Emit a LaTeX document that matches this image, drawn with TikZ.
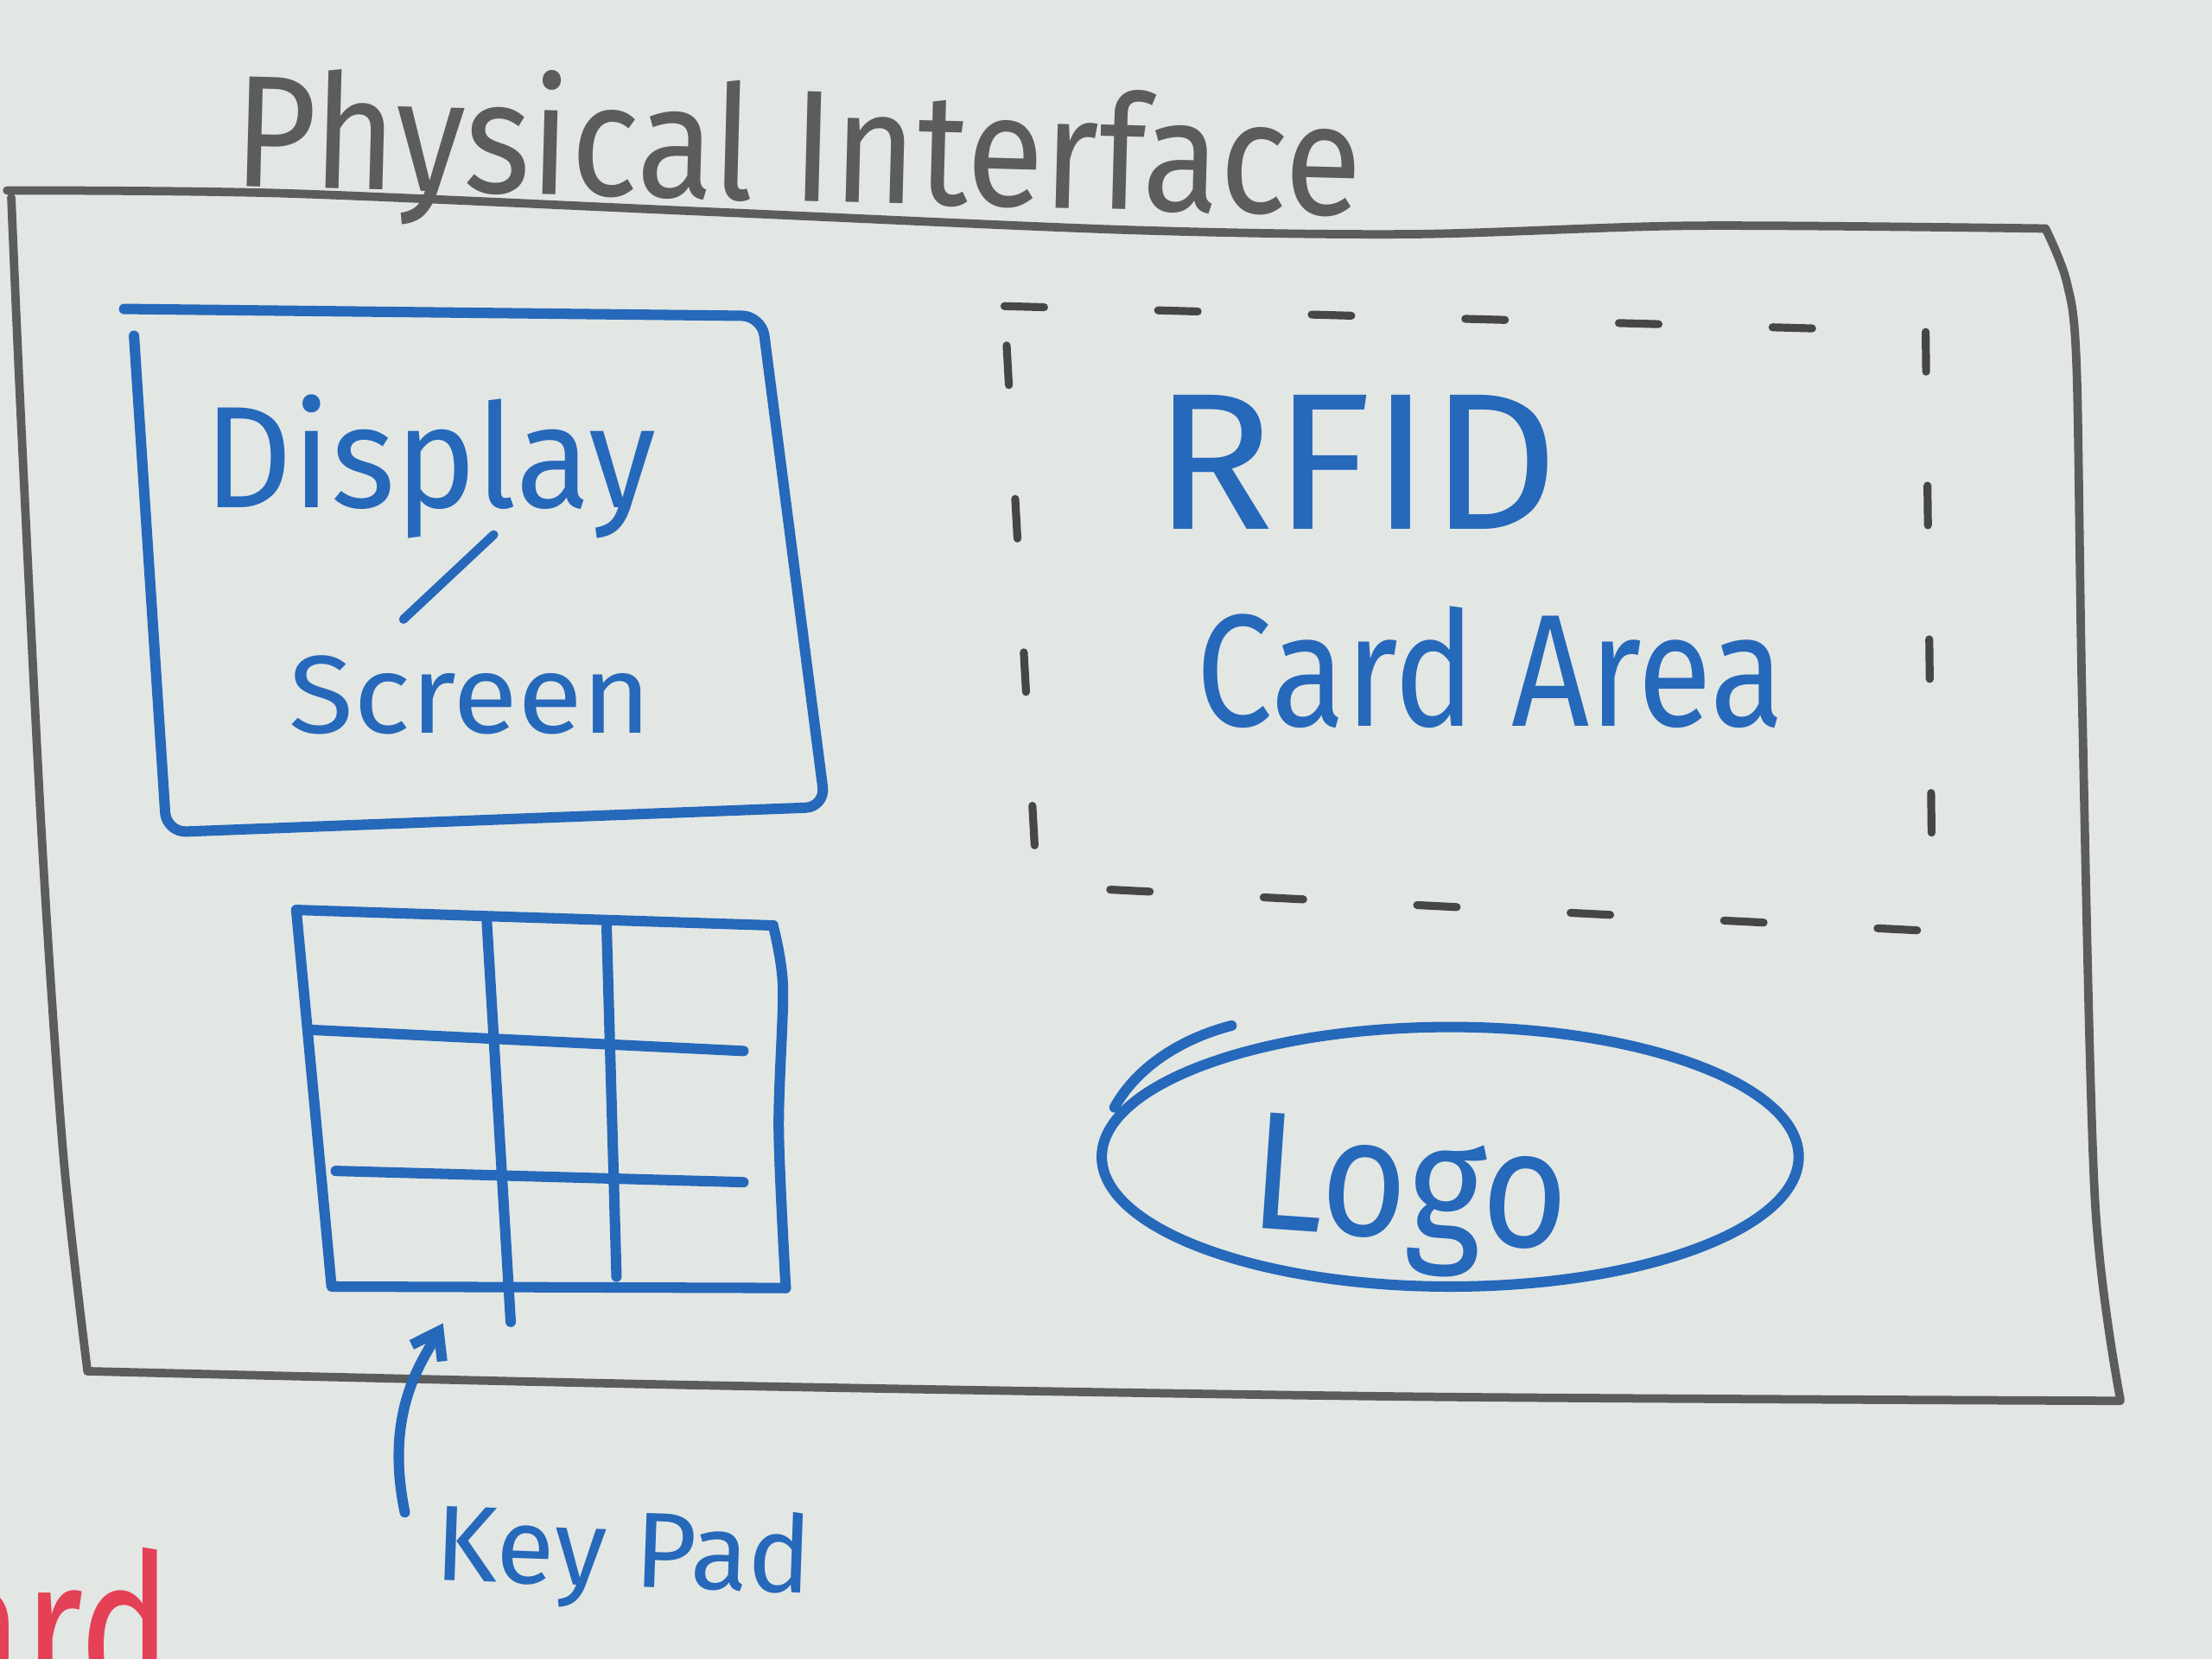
\documentclass[tikz,border=0pt]{standalone}
\usepackage{fontspec}
\setmainfont{Fira Sans}
\usetikzlibrary{positioning,calc,arrows.meta}

\definecolor{board}{RGB}{226,231,228}
\definecolor{marker}{RGB}{38,104,186}
\definecolor{pencil}{RGB}{92,92,92}
\definecolor{dashink}{RGB}{70,70,70}
\definecolor{redink}{RGB}{228,64,86}

\newdimen\boardunit \boardunit=0.02cm
\newcommand{\handword}[3]{\resizebox{#1\boardunit}{#2\boardunit}{#3}}

\begin{document}
\begin{tikzpicture}[x=0.02cm,y=-0.02cm]
    \tikzstyle{every node}=[inner sep=0,outer sep=0,anchor=base west]
    \tikzstyle{blueword}=[text=marker]
    \tikzstyle{pen}=[draw=marker,line width=4.2pt,line cap=round,line join=round]
    \tikzstyle{frame}=[draw=pencil,line width=3.4pt,line cap=round,line join=round]
    \tikzstyle{dashframe}=[draw=dashink,line width=3.2pt,line cap=round,dash pattern=on 16pt off 46pt]
    \tikzstyle{pointer}=[pen,-{Straight Barb[length=10pt,width=14pt]}]

    \fill[board] (0,0) rectangle (1568,1176);
    \useasboundingbox (0,0) rectangle (1568,1176);

    % title and outer board frame
    \node[text=pencil,rotate=-1.5] (title) at (165,132) {\handword{800}{88}{Physical Interface}};
    \draw[frame] plot[smooth,tension=0.5] coordinates {
        (5,135) (200,137) (500,150) (800,163) (1000,166) (1200,160) (1450,162)};
    \draw[frame] plot[smooth,tension=0.5] coordinates {
        (1450,162) (1465,200) (1472,260) (1476,500) (1485,850) (1503,992)};
    \draw[frame] plot[smooth,tension=0.5] coordinates {
        (1503,993) (1000,990) (500,982) (62,972)};
    \draw[frame] plot[smooth,tension=0.5] coordinates {
        (62,972) (45,820) (30,600) (15,300) (8,140)};

    % display / screen
    \draw[pen,rounded corners=8] (88,219) -- (540,224) -- (585,572) -- (118,590) -- (95,238);
    \node[blueword] (display) at (145,360) {\handword{320}{80}{Display}};
    \draw[pen,line width=3.6pt] (350,379) -- (286,439);
    \node[blueword] (screen) at (205,520) {\handword{257}{55}{Screen}};

    % key pad grid
    \draw[pen] (548,656) -- (210,645) -- (235,912) -- (557,913);
    \draw[pen] plot[smooth] coordinates {(548,656) (555,700) (552,800) (557,913)};
    \draw[pen] (345,652) -- (362,937);
    \draw[pen] (430,657) -- (437,905);
    \draw[pen] (220,730) -- (527,745);
    \draw[pen] (238,830) -- (527,838);
    \coordinate (padtip) at (314,938);
    \node[blueword,rotate=-2] (keylabel) at (308,1120) {\handword{267}{57}{Key Pad}};
    \draw[pointer] ($(keylabel.north west)+(-23,9)$) .. controls (272,1000) and (300,964) .. (padtip);

    % rfid card area
    \draw[dashframe] (712,217) -- (1365,235) -- (1370,660) -- (735,628) -- cycle;
    \node[blueword] (rfid) at (818,375) {\handword{287}{95}{RFID}};
    \node[blueword] (card) at (848,515) {\handword{417}{85}{Card Area}};

    % logo
    \draw[pen] (1028,820) ellipse [x radius=247, y radius=92];
    \draw[pen] (873,727) .. controls (838,736) and (806,756) .. (790,785);
    \node[blueword,rotate=-4] (logo) at (885,870) {\handword{225}{82}{Logo}};

    % red fragment at the edge
    \node[text=redink,anchor=base east] (fragment) at (122,1205) {\handword{165}{108}{ard}};
\end{tikzpicture}
\end{document}
